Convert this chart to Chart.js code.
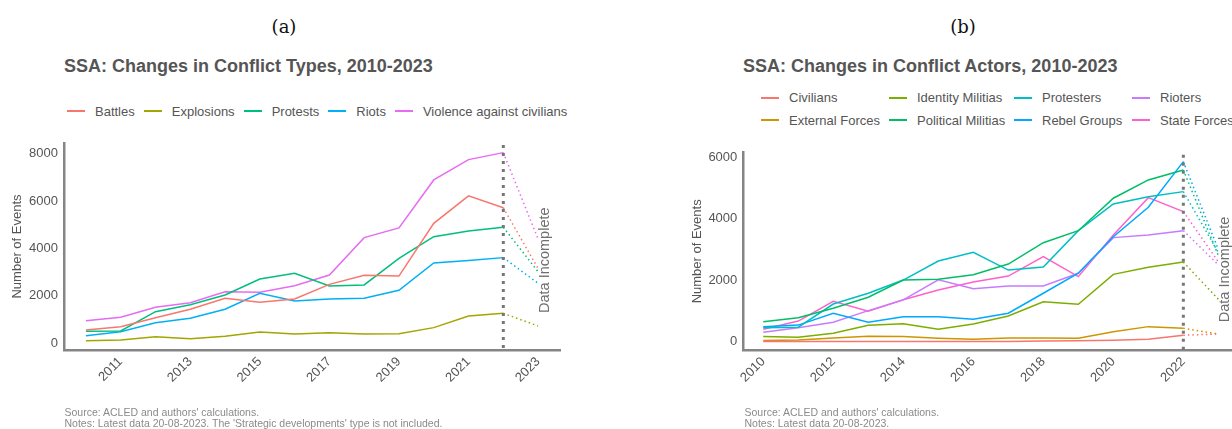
<!DOCTYPE html>
<html>
<head>
<meta charset="utf-8">
<script src="https://cdn.jsdelivr.net/npm/chart.js@4.4.1/dist/chart.umd.min.js"></script>
<style>
  html, body { margin: 0; padding: 0; background: #fff; }
  body { width: 1232px; height: 429px; overflow: hidden; position: relative;
         font-family: "Liberation Sans", Arial, sans-serif; }
  canvas { position: absolute; top: 0; }
  .tag { position: absolute; font-family: "DejaVu Serif", serif; font-size: 18px; line-height: 18px;
         color: #111; transform: translateX(-50%); white-space: nowrap; }
  .title { position: absolute; font-weight: bold; font-size: 18px; line-height: 18px; color: #555;
           white-space: nowrap; }
  .legend { position: absolute; display: grid; grid-auto-flow: column; column-gap: 10px;
            font-size: 13px; line-height: 13px; color: #555; }
  .item { display: flex; align-items: center; white-space: nowrap; }
  .item i { display: inline-block; width: 18px; height: 2px; margin-right: 10px; flex: none; }
  .note { position: absolute; font-size: 10.5px; line-height: 10.6px; color: #8a8a8a; white-space: nowrap; }
</style>
</head>
<body>
<div class="tag" style="left:284px; top:18px;">(a)</div>
<div class="tag" style="left:963px; top:18px;">(b)</div>
<div class="title" id="titleA" style="left:64px; top:56.5px;"></div>
<div class="title" id="titleB" style="left:743px; top:56.5px;"></div>
<div class="legend" id="legendA" style="left:67px; top:104.5px; --rowh:13px; column-gap:9px;"></div>
<div class="legend" id="legendB" style="left:761px; top:86.4px; --rowh:22.6px; grid-template-columns: 118px 115px 108px auto;"></div>
<canvas id="chartA" width="616" height="429" style="left:0;"></canvas>
<canvas id="chartB" width="616" height="429" style="left:616px;"></canvas>
<div class="note" style="left:64.5px; top:407.4px;">Source: ACLED and authors' calculations.<br>Notes: Latest data 20-08-2023. The 'Strategic developments' type is not included.</div>
<div class="note" style="left:744.5px; top:407.4px;">Source: ACLED and authors' calculations.<br>Notes: Latest data 20-08-2023.</div>

<script>
// ---------------- DATA ----------------
const years = [2010, 2011, 2012, 2013, 2014, 2015, 2016, 2017, 2018, 2019, 2020, 2021, 2022, 2023];
const incompleteYear = 2023;
const lastCompleteYear = 2022;

// (a) Conflict types
const titleA = 'SSA: Changes in Conflict Types, 2010-2023';
const typeNames = ['Battles', 'Explosions', 'Protests', 'Riots', 'Violence against civilians'];
const typeColors = ['#F8766D', '#A3A500', '#00BF7D', '#00B0F6', '#E76BF3'];
const battles    = [550, 690, 1070, 1425, 1890, 1720, 1860, 2480, 2860, 2830, 5060, 6220, 5720, 3150];
const explosions = [90, 130, 265, 185, 285, 465, 380, 435, 380, 395, 650, 1140, 1255, 720];
const protests   = [500, 510, 1325, 1620, 2030, 2705, 2950, 2410, 2455, 3580, 4495, 4740, 4895, 3015];
const riots      = [310, 480, 860, 1045, 1425, 2100, 1775, 1860, 1890, 2230, 3385, 3485, 3610, 2525];
const violenceCiv= [945, 1090, 1510, 1705, 2170, 2145, 2425, 2875, 4455, 4865, 6895, 7755, 8050, 4400];
const xTicksA = [2011, 2013, 2015, 2017, 2019, 2021, 2023];
const yTicksA = [0, 2000, 4000, 6000, 8000];
const noteYA = 3500;

// (b) Conflict actors
const titleB = 'SSA: Changes in Conflict Actors, 2010-2023';
const actorNames = ['Civilians', 'External Forces', 'Identity Militias', 'Political Militias',
                    'Protesters', 'Rebel Groups', 'Rioters', 'State Forces'];
const actorColors = ['#F8766D', '#CD9600', '#7CAE00', '#00BE67', '#00BFC4', '#00A9FF', '#C77CFF', '#FF61CC'];
const civilians   = [5, 5, 10, 10, 10, 10, 10, 10, 20, 30, 50, 80, 210, 250];
const externalF   = [40, 55, 120, 175, 165, 110, 80, 120, 120, 110, 325, 490, 435, 250];
const identityM   = [165, 145, 275, 535, 585, 405, 575, 835, 1300, 1215, 2190, 2420, 2590, 1380];
const politicalM  = [650, 780, 1085, 1445, 2005, 2030, 2180, 2525, 3220, 3610, 4665, 5260, 5585, 2800];
const protesters  = [450, 470, 1225, 1575, 2005, 2625, 2910, 2330, 2430, 3610, 4480, 4715, 4880, 2900];
const rebelGroups = [490, 540, 925, 630, 815, 815, 730, 925, 1575, 2225, 3415, 4370, 5855, 3000];
const rioters     = [305, 455, 630, 1010, 1360, 2015, 1725, 1810, 1810, 2225, 3385, 3470, 3610, 2500];
const stateForces = [405, 670, 1315, 990, 1365, 1680, 1940, 2135, 2765, 2115, 3470, 4685, 4230, 2600];
const xTicksB = [2010, 2012, 2014, 2016, 2018, 2020, 2022];
const yTicksB = [0, 2000, 4000, 6000];
const noteYB = 2350;

const seriesA = [battles, explosions, protests, riots, violenceCiv];
const seriesB = [civilians, externalF, identityM, politicalM, protesters, rebelGroups, rioters, stateForces];

// ---------------- HTML titles & legends ----------------
document.getElementById('titleA').textContent = titleA;
document.getElementById('titleB').textContent = titleB;
function buildLegend(id, names, colors, rows) {
  const el = document.getElementById(id);
  el.style.gridTemplateRows = 'repeat(' + rows + ', var(--rowh))';
  names.forEach((n, i) => {
    const d = document.createElement('div');
    d.className = 'item';
    const l = document.createElement('i');
    l.style.background = colors[i];
    d.appendChild(l);
    d.appendChild(document.createTextNode(n));
    el.appendChild(d);
  });
}
buildLegend('legendA', typeNames, typeColors, 1);
buildLegend('legendB', actorNames, actorColors, 2);

// ---------------- CHARTS ----------------
const FONT = '"Liberation Sans", Arial, sans-serif';
const TXT = '#555555';
const AXIS = '#858585';

const markerPlugin = {
  id: 'incomplete',
  afterDatasetsDraw(chart, args, opts) {
    const {ctx, chartArea, scales: {x, y}} = chart;
    const vx = x.getPixelForValue(lastCompleteYear);
    ctx.save();
    ctx.strokeStyle = '#777777';
    ctx.lineWidth = 3;
    ctx.setLineDash([3, 5]);
    ctx.beginPath();
    ctx.moveTo(vx, chartArea.top + 2);
    ctx.lineTo(vx, chartArea.bottom);
    ctx.stroke();
    ctx.setLineDash([]);
    const tx = x.getPixelForValue(incompleteYear) + 6.5;
    const ty = y.getPixelForValue(opts.noteY);
    ctx.translate(tx, ty);
    ctx.rotate(-Math.PI / 2);
    ctx.font = '14.5px ' + FONT;
    ctx.fillStyle = '#6f6f6f';
    ctx.textAlign = 'center';
    ctx.textBaseline = 'middle';
    ctx.fillText('Data Incomplete', 0, 0);
    ctx.restore();
  }
};

function makeChart(canvasId, names, colors, series, xr, yr, xTicks, yTicks, pad, noteY) {
  const datasets = names.map((n, i) => ({
    label: n,
    data: years.map((yr_, j) => ({x: yr_, y: series[i][j]})),
    borderColor: colors[i],
    backgroundColor: colors[i],
    borderWidth: 1.5,
    pointRadius: 0,
    tension: 0,
    fill: false,
    segment: {
      borderDash: c => (c.p1.parsed.x === incompleteYear ? [1.5, 3] : undefined)
    }
  }));
  return new Chart(document.getElementById(canvasId), {
    type: 'line',
    data: {datasets},
    plugins: [markerPlugin],
    options: {
      responsive: false,
      animation: false,
      events: [],
      layout: {padding: pad},
      plugins: {
        legend: {display: false},
        title: {display: false},
        tooltip: {enabled: false},
        incomplete: {noteY}
      },
      scales: {
        x: {
          type: 'linear', min: xr[0], max: xr[1],
          afterBuildTicks: s => { s.ticks = xTicks.map(v => ({value: v})); },
          afterFit: s => { s.height = 79; },
          grid: {display: false, drawTicks: false},
          border: {display: true, color: AXIS, width: 2.5},
          ticks: {
            autoSkip: false, minRotation: 45, maxRotation: 45, padding: 4,
            color: TXT, font: {family: FONT, size: 13},
            callback: v => String(v)
          }
        },
        y: {
          type: 'linear', min: yr[0], max: yr[1],
          afterBuildTicks: s => { s.ticks = yTicks.map(v => ({value: v})); },
          afterFit: s => { s.width = 64; },
          grid: {display: false, drawTicks: false},
          border: {display: true, color: AXIS, width: 2.5},
          ticks: {padding: 6, color: TXT, font: {family: FONT, size: 13}, callback: v => String(v)},
          title: {display: true, text: 'Number of Events', color: TXT,
                  font: {family: FONT, size: 13}, padding: {top: 10, bottom: 0}}
        }
      }
    }
  });
}

makeChart('chartA', typeNames, typeColors, seriesA, [2009.37, 2023.63], [-296, 8457],
          xTicksA, yTicksA, {left: 0, top: 143, right: 56, bottom: 0}, noteYA);
makeChart('chartB', actorNames, actorColors, seriesB, [2009.43, 2023.39], [-270, 6146],
          xTicksB, yTicksB, {left: 63.3, top: 152.7, right: 0, bottom: 0}, noteYB);
</script>
</body>
</html>
